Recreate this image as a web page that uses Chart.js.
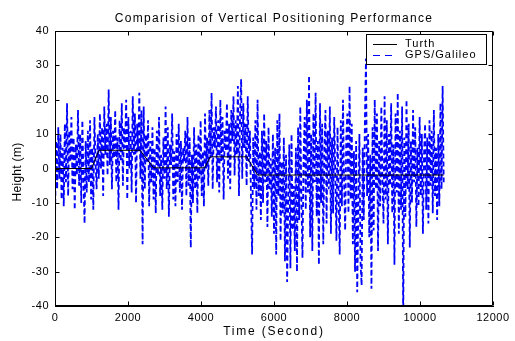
<!DOCTYPE html>
<html><head><meta charset="utf-8">
<script src="https://cdn.jsdelivr.net/npm/chart.js@4.4.1/dist/chart.umd.min.js"></script>
<style>html,body{margin:0;padding:0;background:#fff}#c{display:block}</style>
</head><body>
<canvas id="c" width="515" height="341"></canvas>
<script>
// ---- data ----
const xTickValues = [0, 2000, 4000, 6000, 8000, 10000, 12000];
const yTickValues = [-40, -30, -20, -10, 0, 10, 20, 30, 40];

// Truth (reference height) breakpoints
const truthTime   = [0, 1000, 1200, 2330, 2700, 4100, 4250, 5250, 5550, 10650];
const truthHeight = [0, 0,    5.3,  5.3,  0.2,  0.2,  3.4,  3.4,  -1.9, -1.9];

// GPS/Galileo estimated height, one sample every 30 s starting at t = 0
const gpsStart = 0;
const gpsStep = 30;
const gpsHeight = [
  -15, 8, -6, 12, -3, 10, -9, 6, -11, 13,
  -4, 19, -8, 11, 2, 15, -6, 9, -12, 7,
  -2, 17, -5, 10, -10, 14, -3, -16, 8, -7,
  11, -4, 14, -9, 6, -12, 15, 2, -6, 10,
  -3, 16, 0, 12, -8, 18, 4, 13, -2, 23,
  1, 15, -6, 11, 3, 17, -4, 9, -12, 14,
  2, 19, -5, 12, 6, 20, -9, 15, 0, 11,
  -7, 21, 4, 16, -10, 13, 5, 22, -3, 17,
  -22, 18, -6, 10, 2, 14, -11, 8, -4, 12,
  -9, 6, -13, 11, -2, 15, -8, 4, -12, 9,
  -3, 18, -6, 12, -14, 7, 1, 16, -9, 5,
  -11, 10, -4, 13, -7, 8, -12, 6, 2, 11,
  -8, 15, -5, 9, -23, 4, -10, 12, -6, 7,
  -13, 10, -3, 14, -8, 5, -11, 16, 0, 9,
  -5, 17, 3, 22, -6, 12, 6, 18, -4, 14,
  -7, 20, 2, 15, -9, 11, 5, 19, -3, 13,
  -6, 17, 8, 21, -2, 14, 4, 24, -8, 16,
  26, -3, 19, 6, 13, -5, 21, 2, 11, -9,
  -25, 9, -6, 14, -12, 20, -8, 5, -15, 11,
  -10, 16, -4, 8, -17, 12, -6, 3, -14, 10,
  -19, 6, -25, 14, -8, 16, -21, 2, -13, 9,
  -27, 4, -33, -10, 7, -29, 10, -18, -5, -24,
  6, -30, 12, -15, 18, -9, -26, 3, 15, -12,
  20, -7, 27, -20, 10, -24, 16, -4, 22, -14,
  8, -28, 19, -10, 13, -22, 5, 17, -16, 11,
  -6, 18, -19, 9, -13, 15, -2, -21, 12, -8,
  -25, 14, -11, 20, -4, -18, 9, 16, -13, 24,
  -9, 13, -22, 5, -30, 8, -36, -12, 10, -27,
  -34, 6, -15, 14, 32, -8, 10, -20, 4, -35,
  12, -18, 20, -6, 16, -24, 8, -11, 18, -3,
  -16, 21, -9, 14, -22, 10, -5, 19, -13, 7,
  -28, 16, -7, 22, -19, 11, -12, 18, -45, 9,
  -14, 20, -6, 13, -23, 8, -10, 17, -4, 12,
  -17, 6, -11, 15, -8, 10, -19, 4, 13, -12,
  9, -16, 14, -5, 11, -13, 17, -8, 6, -15,
  10, -11, 19, -6, 24, -4
];

const titleText = 'Comparision of Vertical Positioning Performance';
const xTitle = 'Time (Second)';
const yTitle = 'Height (m)';
const legendLabels = ['Turth', 'GPS/Galileo'];

// ---- chart ----
const FONT = '"Liberation Sans", Arial, sans-serif';
const truthData = truthTime.map((t, i) => ({x: t, y: truthHeight[i]}));
const gpsData = gpsHeight.map((v, i) => ({x: gpsStart + i * gpsStep, y: v}));

const decor = {
  id: 'decor',
  beforeDraw(chart) { chart.ctx.letterSpacing = '0.5px'; },
  afterDatasetsDraw(chart) {
    const {ctx, chartArea: a, scales: {x, y}} = chart;
    ctx.save();
    ctx.letterSpacing = '0px';
    ctx.strokeStyle = '#000';
    ctx.lineWidth = 1;
    ctx.beginPath();
    const L = Math.round(a.left) + 0.5, R = Math.round(a.right) - 0.5;
    const T = Math.round(a.top) + 0.5, B = Math.round(a.bottom) - 0.5;
    ctx.moveTo(L, T); ctx.lineTo(R, T); ctx.lineTo(R, B); ctx.lineTo(L, B); ctx.closePath();
    const tl = 4;
    xTickValues.forEach(v => {
      const px = Math.round(x.getPixelForValue(v)) + 0.5;
      ctx.moveTo(px, B); ctx.lineTo(px, B - tl);
      ctx.moveTo(px, T); ctx.lineTo(px, T + tl);
    });
    yTickValues.forEach(v => {
      const py = Math.round(y.getPixelForValue(v)) + 0.5;
      ctx.moveTo(L, py); ctx.lineTo(L + tl, py);
      ctx.moveTo(R, py); ctx.lineTo(R - tl, py);
    });
    ctx.stroke();
    ctx.restore();
  },
  afterDraw(chart) {
    const {ctx, chartArea: a} = chart;
    ctx.save();
    ctx.fillStyle = '#000';
    ctx.textBaseline = 'middle';
    ctx.textAlign = 'center';
    // title
    ctx.font = '12px ' + FONT;
    ctx.letterSpacing = '1.3px';
    ctx.fillText(titleText, (a.left + a.right) / 2, 19);
    // x title
    ctx.letterSpacing = '1.8px';
    ctx.fillText(xTitle, (a.left + a.right) / 2, 332);
    // y title
    ctx.letterSpacing = '0.3px';
    ctx.save();
    ctx.translate(18, 172);
    ctx.rotate(-Math.PI / 2);
    ctx.fillText(yTitle, 0, 0);
    ctx.restore();
    // legend
    const bx = 366.5, by = 34.5, bw = 120, bh = 30;
    ctx.fillStyle = '#fff';
    ctx.fillRect(bx, by, bw, bh);
    ctx.strokeStyle = '#000';
    ctx.lineWidth = 1;
    ctx.strokeRect(bx, by, bw, bh);
    ctx.beginPath();
    ctx.moveTo(373, 44.5); ctx.lineTo(397, 44.5);
    ctx.stroke();
    ctx.strokeStyle = '#0000ff';
    ctx.setLineDash([7, 5]);
    ctx.beginPath();
    ctx.moveTo(373, 55.5); ctx.lineTo(397, 55.5);
    ctx.stroke();
    ctx.setLineDash([]);
    ctx.fillStyle = '#000';
    ctx.textAlign = 'left';
    ctx.font = '11px ' + FONT;
    ctx.letterSpacing = '1px';
    ctx.fillText(legendLabels[0], 405, 44);
    ctx.fillText(legendLabels[1], 405, 55);
    ctx.restore();
  }
};

new Chart(document.getElementById('c'), {
  type: 'line',
  data: {
    datasets: [
      {label: legendLabels[0], data: truthData, borderColor: '#000', borderWidth: 1,
       pointRadius: 0, tension: 0, fill: false, order: 0},
      {label: legendLabels[1], data: gpsData, borderColor: '#0000ff', borderWidth: 1.8,
       borderDash: [5, 3], pointRadius: 0, tension: 0, fill: false, order: 1}
    ]
  },
  options: {
    responsive: false,
    animation: false,
    events: [],
    layout: {padding: {left: 0, right: 22, top: 31, bottom: 0}},
    plugins: {legend: {display: false}, title: {display: false}, tooltip: {enabled: false}},
    scales: {
      x: {
        type: 'linear', min: 0, max: 12000,
        afterBuildTicks(s) { s.ticks = xTickValues.map(v => ({value: v})); },
        afterFit(s) { s.height = 35; },
        ticks: {color: '#000', font: {family: FONT, size: 11}, padding: 5, maxRotation: 0, autoSkip: false,
                callback: v => String(v)},
        grid: {display: true, drawOnChartArea: false, drawTicks: false},
        border: {display: true, color: '#000', width: 1}
      },
      y: {
        type: 'linear', min: -40, max: 40,
        afterBuildTicks(s) { s.ticks = yTickValues.map(v => ({value: v})); },
        afterFit(s) { s.width = 55; },
        ticks: {color: '#000', font: {family: FONT, size: 11}, padding: 6, autoSkip: false,
                callback: v => String(v)},
        grid: {display: true, drawOnChartArea: false, drawTicks: false},
        border: {display: true, color: '#000', width: 1}
      }
    }
  },
  plugins: [decor]
});
</script>
</body></html>
